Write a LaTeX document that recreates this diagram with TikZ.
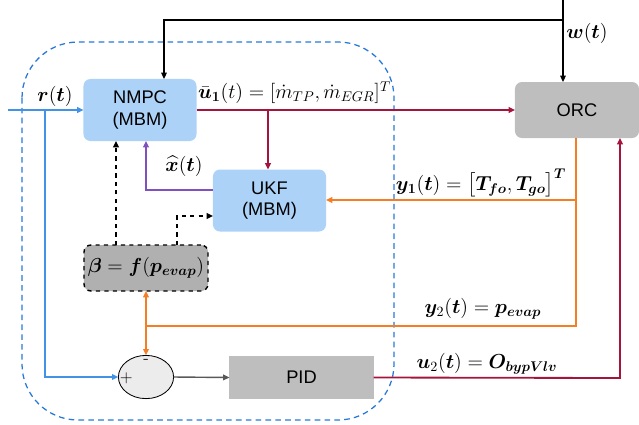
\documentclass[tikz,border=0pt]{standalone}
\usepackage{amsmath,bm}
\usepackage{fontspec}
\setsansfont{Liberation Sans}
\usetikzlibrary{arrows.meta,shapes.geometric}

\definecolor{boxblue}{RGB}{172,210,248}
\definecolor{lineblue}{RGB}{66,146,230}
\definecolor{frameblue}{RGB}{40,120,215}
\definecolor{crimson}{RGB}{165,20,60}
\definecolor{orangeline}{RGB}{245,125,35}
\definecolor{purpleline}{RGB}{128,80,190}
\definecolor{boxgray}{RGB}{190,190,190}
\definecolor{betagray}{RGB}{176,176,176}

\begin{document}
\begin{tikzpicture}[x=0.025cm,y=-0.025cm,inner sep=0pt,outer sep=0pt,
>={Triangle[length=4.5pt,width=4pt]},
ctrlblock/.style={draw=none,fill=boxblue,rounded corners=5pt,minimum width=2.825cm,minimum height=1.55cm,align=center,font=\sffamily\fontsize{13}{15}\selectfont},
plantblock/.style={draw=none,fill=boxgray,rounded corners=5pt,minimum width=3.1cm,minimum height=1.4cm,font=\sffamily\fontsize{13}{15}\selectfont},
lbl/.style={font=\fontsize{14.5}{16}\selectfont}]

\useasboundingbox (0,0) rectangle (639,424);

% controller frame
\draw[frameblue,dashed,line width=0.9pt,dash pattern=on 4pt off 3pt,rounded corners=1.4cm] (22,42) rectangle (394,420);

\draw (140,110) node[ctrlblock] (nmpc) {NMPC\\(MBM)};
\draw (269.5,200.5) node[ctrlblock] (ukf) {UKF\\(MBM)};
\draw (577,110) node[plantblock] (orc) {ORC};
\draw (146,268) node[draw,dashed,fill=betagray,rounded corners=5pt,line width=1pt,minimum width=3.1cm,minimum height=1.15cm,lbl] (beta) {$\bm{\beta} = \bm{f}(\bm{p}_{\bm{evap}})$};
\draw (146,377) node[draw,ellipse,fill=gray!15,line width=0.6pt,minimum width=1.38cm,minimum height=1.08cm] (sum) {};
\draw (301.5,377.5) node[fill=boxgray,minimum width=3.6cm,minimum height=1.08cm,font=\sffamily\fontsize{13}{15}\selectfont] (pid) {PID};

\coordinate (rin) at (8,110);
\coordinate (win) at (563,0);

% reference
\draw[->,lineblue,line width=1.3pt] (rin) -- (nmpc.west |- rin);
\draw[->,lineblue,line width=1.3pt] (45,110) -- (45,377) -- (sum.west);
\draw (55,96) node[lbl] {$\bm{r}(\bm{t})$};
\draw (sum.west) ++(8,1) node[font=\large] {$+$};
\draw (sum.north) ++(0,6) node[font=\large] {-};

% disturbance
\draw[->,line width=0.8pt] (win) -- (orc.north -| win);
\draw[->,line width=0.8pt] (563,20) -| (nmpc.north -| 164,0);
\draw (587,33) node[lbl] {$\bm{w}(\bm{t})$};

% NMPC output
\draw[->,crimson,line width=1.3pt] (nmpc.east) -- (orc.west);
\draw[->,crimson,line width=1.3pt] (268,110) -- (ukf.north -| 268,0);
\draw (198,93) node[lbl,anchor=west] {$\bar{\bm{u}}_{\bm{1}}(t) = [\dot{m}_{TP}, \dot{m}_{EGR}]^T$};

% state estimate
\draw[->,purpleline,line width=1.3pt] (ukf.west |- 0,190) -| (nmpc.south -| 146,0);
\draw (184,166) node[lbl] {$\widehat{\bm{x}}(\bm{t})$};

% measurements
\draw[->,orangeline,line width=1.3pt] (orc.south -| 576,0) -- (576,200) -- (ukf.east |- 0,200);
\draw[orangeline,line width=1.3pt] (576,200) -- (576,326) -- (146,326);
\draw[->,orangeline,line width=1.3pt] (146,326) -- (beta.south);
\draw[->,orangeline,line width=1.3pt] (146,326) -- (sum.north);
\draw (481,183) node[lbl] {$\bm{y}_{\bm{1}}(\bm{t}) = \bigl[\bm{T}_{\bm{fo}}, \bm{T}_{\bm{go}}\bigr]^{\bm{T}}$};
\draw (483,309) node[lbl] {$\bm{y}_2(\bm{t}) = \bm{p}_{\bm{evap}}$};

% scheduling
\draw[->,dashed,line width=1.1pt] (beta.north -| 116,0) -- (nmpc.south -| 116,0);
\draw[->,dashed,line width=1.1pt] (beta.north -| 177,0) -- (177,216) -- (ukf.west |- 0,216);

% PID loop
\draw[->,black!65,line width=1pt] (sum.east) -- (pid.west);
\draw[->,crimson,line width=1.3pt] (pid.east) -- (620,378) -- (orc.south -| 620,0);
\draw (487,364) node[lbl] {$\bm{u}_2(\bm{t}) = \bm{O}_{\bm{bypVlv}}$};
\end{tikzpicture}
\end{document}
